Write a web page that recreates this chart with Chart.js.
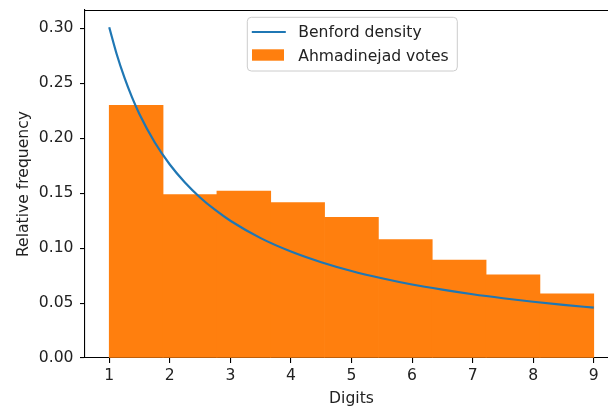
<!DOCTYPE html>
<html>
<head>
<meta charset="utf-8">
<script src="https://cdn.jsdelivr.net/npm/chart.js@4/dist/chart.umd.min.js"></script>
<style>
  html, body { margin: 0; padding: 0; overflow: hidden; background: #fff; width: 608px; height: 406px; }
  #wrap { position: relative; width: 640px; height: 420px; }
</style>
</head>
<body>
<div id="wrap"><canvas id="c" width="640" height="420"></canvas></div>
<script>
// Histogram bins of first digits (density) and the Benford reference curve
const binEdges = [1, 1.8889, 2.7778, 3.6667, 4.5556, 5.4444, 6.3333, 7.2222, 8.1111, 9];
const voteFreq = [0.2299, 0.1488, 0.1518, 0.1415, 0.1281, 0.1078, 0.0890, 0.0756, 0.0583];

const benfordX = [1, 1.125, 1.25, 1.375, 1.5, 1.75, 2, 2.25, 2.5, 2.75, 3, 3.5, 4, 4.5, 5, 5.5, 6, 6.5, 7, 7.5, 8, 8.5, 9];
const benfordY = [0.3010, 0.2762, 0.2553, 0.2374, 0.2218, 0.1963, 0.1761, 0.1597, 0.1461, 0.1347, 0.1249,
                  0.1091, 0.0969, 0.0872, 0.0792, 0.0726, 0.0669, 0.0622, 0.0580, 0.0544, 0.0512, 0.0483, 0.0458];

const xTickValues = [1, 2, 3, 4, 5, 6, 7, 8, 9];
const yTickValues = [0, 0.05, 0.10, 0.15, 0.20, 0.25, 0.30];
const seriesNames = ['Benford density', 'Ahmadinejad votes'];

const BLUE = '#1f77b4';
const ORANGE = '#ff7f0e';
const INK = '#222';
const FONT = { family: '"DejaVu Sans", sans-serif', size: 15.6, lineHeight: 1.2 };

const barPoints = voteFreq.map((v, i) => ({ x: (binEdges[i] + binEdges[i + 1]) / 2, y: v }));
const curvePoints = benfordX.map((x, i) => ({ x: x, y: benfordY[i] }));

// top and right frame lines plus the boxed legend
const frameAndLegend = {
  id: 'frameAndLegend',
  afterDraw(chart) {
    const ctx = chart.ctx;
    const ca = chart.chartArea;
    ctx.save();
    ctx.strokeStyle = '#000';
    ctx.lineWidth = 1.1;
    ctx.beginPath();
    ctx.moveTo(ca.left, Math.round(ca.top) + 0.5);
    ctx.lineTo(ca.right, Math.round(ca.top) + 0.5);
    ctx.moveTo(Math.round(ca.right) + 0.5, ca.top);
    ctx.lineTo(Math.round(ca.right) + 0.5, ca.bottom);
    ctx.stroke();

    const w = 210, h = 53.7, r = 4;
    const x = (ca.left + ca.right) / 2 - w / 2 + 0.8;
    const y = ca.top + 7.3;
    ctx.beginPath();
    ctx.roundRect(x, y, w, h, r);
    ctx.fillStyle = 'rgba(255,255,255,0.8)';
    ctx.fill();
    ctx.strokeStyle = '#cccccc';
    ctx.lineWidth = 1;
    ctx.stroke();

    ctx.strokeStyle = BLUE;
    ctx.lineWidth = 2.2;
    ctx.beginPath();
    ctx.moveTo(x + 4.5, y + 14.7);
    ctx.lineTo(x + 38.5, y + 14.7);
    ctx.stroke();

    ctx.fillStyle = ORANGE;
    ctx.fillRect(x + 4.7, y + 32, 32, 11.4);

    ctx.fillStyle = INK;
    ctx.font = FONT.size + 'px ' + FONT.family;
    ctx.textAlign = 'left';
    ctx.textBaseline = 'alphabetic';
    ctx.fillText(seriesNames[0], x + 51, y + 19.2);
    ctx.fillText(seriesNames[1], x + 51, y + 43.5);
    ctx.restore();
  }
};

function fixX(s) {
  s.height = 62;
  s.paddingLeft = 0; s.paddingRight = 0; s.paddingTop = 0; s.paddingBottom = 0;
}
function fixY(s) {
  s.width = 85;
  s.paddingLeft = 0; s.paddingRight = 0; s.paddingTop = 0; s.paddingBottom = 0;
}

new Chart(document.getElementById('c'), {
  type: 'bar',
  data: {
    datasets: [
      {
        type: 'line',
        label: seriesNames[0],
        data: curvePoints,
        borderColor: BLUE,
        borderWidth: 2.2,
        pointRadius: 0,
        cubicInterpolationMode: 'monotone',
        fill: false,
        order: 0
      },
      {
        type: 'bar',
        label: seriesNames[1],
        data: barPoints,
        backgroundColor: ORANGE,
        borderWidth: 0,
        barPercentage: 1,
        categoryPercentage: 1,
        order: 1
      }
    ]
  },
  options: {
    responsive: false,
    devicePixelRatio: 1,
    animation: false,
    layout: { padding: { top: 10, right: 22, left: 0, bottom: 0 } },
    plugins: { legend: { display: false }, tooltip: { enabled: false } },
    scales: {
      x: {
        type: 'linear',
        offset: false,
        min: 0.6,
        max: 9.4,
        z: 1,
        afterFit: fixX,
        afterBuildTicks(s) { s.ticks = xTickValues.map(v => ({ value: v })); },
        grid: { display: true, offset: false, drawOnChartArea: false, drawTicks: true, tickLength: 5, color: '#000', lineWidth: 1.1 },
        border: { display: true, color: '#000', width: 1.1 },
        ticks: { color: INK, font: FONT, padding: 3.5, maxRotation: 0, autoSkip: false, callback: v => String(v) },
        title: { display: true, text: 'Digits', color: INK, font: FONT, padding: { top: 0, bottom: 11.4 } }
      },
      y: {
        type: 'linear',
        min: 0,
        max: 0.3167,
        z: 1,
        afterFit: fixY,
        afterBuildTicks(s) { s.ticks = yTickValues.map(v => ({ value: v })); },
        grid: { display: true, offset: false, drawOnChartArea: false, drawTicks: true, tickLength: 5, color: '#000', lineWidth: 1.1 },
        border: { display: true, color: '#000', width: 1.1 },
        ticks: { color: INK, font: FONT, padding: 6.5, autoSkip: false, callback: v => Number(v).toFixed(2) },
        title: { display: true, text: 'Relative frequency', color: INK, font: FONT, padding: { top: 15, bottom: 0 } }
      }
    }
  },
  plugins: [frameAndLegend]
});
</script>
</body>
</html>
